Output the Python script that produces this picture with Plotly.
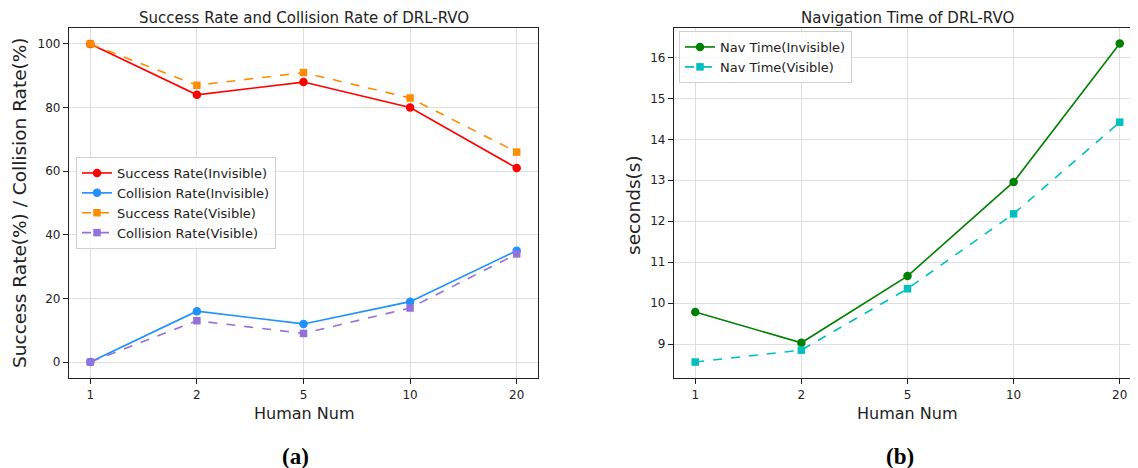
import plotly.graph_objects as go

human_num = ["1", "2", "5", "10", "20"]
success_invisible = [100, 84, 88, 80, 61]
collision_invisible = [0, 16, 12, 19, 35]
success_visible = [100, 87, 91, 83, 66]
collision_visible = [0, 13, 9, 17, 34]
navtime_invisible = [9.78, 9.03, 10.66, 12.96, 16.34]
navtime_visible = [8.56, 8.85, 10.35, 12.18, 14.42]

# page has an 8px body margin; work in screen pixels and convert
OFF = 8
W, H = 1138 - OFF, 468 - OFF
FONT = "DejaVu Sans"

def px(x):
    return (x - OFF) / W

def py(y):
    return 1 - (y - OFF) / H

fig = go.Figure()

def add(x, y, name, color, dash, symbol, xa, ya, legend, msize):
    fig.add_trace(go.Scatter(
        x=x, y=y, name=name, mode="lines+markers",
        line=dict(color=color, width=1.6, dash=dash),
        marker=dict(color=color, symbol=symbol, size=msize),
        xaxis=xa, yaxis=ya, legend=legend))

add(human_num, success_invisible, "Success Rate(Invisible)", "#ff0000", "solid", "circle", "x", "y", "legend", 8.5)
add(human_num, collision_invisible, "Collision Rate(Invisible)", "#1e90ff", "solid", "circle", "x", "y", "legend", 8.5)
add(human_num, success_visible, "Success Rate(Visible)", "#ff8c00", "dash", "square", "x", "y", "legend", 7.5)
add(human_num, collision_visible, "Collision Rate(Visible)", "#9370db", "dash", "square", "x", "y", "legend", 7.5)
add(human_num, navtime_invisible, "Nav Time(Invisible)", "#008000", "solid", "circle", "x2", "y2", "legend2", 8.5)
add(human_num, navtime_visible, "Nav Time(Visible)", "#00bfbf", "dash", "square", "x2", "y2", "legend2", 7.5)

tickfont = dict(family=FONT, size=12, color="#222222")
common_x = dict(type="category", showgrid=True, gridcolor="#dedede", gridwidth=1,
                showline=True, linecolor="#222222", linewidth=1.2,
                ticks="outside", ticklen=5, tickcolor="#222222", tickfont=tickfont,
                zeroline=False)
common_y = dict(showgrid=True, gridcolor="#dedede", gridwidth=1,
                showline=True, linecolor="#222222", linewidth=1.2,
                ticks="outside", ticklen=5, tickcolor="#222222", tickfont=tickfont,
                zeroline=False)

ydom = [py(378), py(28)]
fig.update_layout(
    width=W, height=H, margin=dict(l=0, r=0, t=0, b=0),
    paper_bgcolor="white", plot_bgcolor="white",
    font=dict(family=FONT, color="#222222"),
    xaxis=dict(domain=[px(69), px(538)], range=[-0.2, 4.2], mirror=True, anchor="y", **common_x),
    yaxis=dict(domain=ydom, range=[-5, 105], tickvals=[0, 20, 40, 60, 80, 100], mirror=True, anchor="x", **common_y),
    xaxis2=dict(domain=[px(674), 1.0], range=[-0.2, 4.172], mirror=True, anchor="y2", **common_x),
    yaxis2=dict(domain=ydom, range=[8.17, 16.72], tickvals=[9, 10, 11, 12, 13, 14, 15, 16], anchor="x2", **common_y),
    legend=dict(x=px(76), y=py(157), xanchor="left", yanchor="top",
                bgcolor="rgba(255,255,255,0.85)", bordercolor="#d0d0d0", borderwidth=1,
                font=dict(family=FONT, size=13, color="#222222"), tracegroupgap=0),
    legend2=dict(x=px(679), y=py(31), xanchor="left", yanchor="top",
                 bgcolor="rgba(255,255,255,0.85)", bordercolor="#d0d0d0", borderwidth=1,
                 font=dict(family=FONT, size=13, color="#222222"), tracegroupgap=0),
    showlegend=True,
)

ann = [
    dict(text="Success Rate and Collision Rate of DRL-RVO", x=px(303.5), y=1.0, size=15, angle=0, ya="top"),
    dict(text="Navigation Time of DRL-RVO", x=px(907), y=1.0, size=15, angle=0, ya="top"),
    dict(text="Success Rate(%) / Collision Rate(%)", x=px(19), y=py(203), size=18.5, angle=-90, ya="middle"),
    dict(text="seconds(s)", x=px(633), y=py(205), size=18.5, angle=-90, ya="middle"),
    dict(text="Human Num", x=px(303.5), y=py(413), size=16, angle=0, ya="middle"),
    dict(text="Human Num", x=px(907), y=py(413), size=16, angle=0, ya="middle"),
]
for a in ann:
    fig.add_annotation(text=a["text"], x=a["x"], y=a["y"], xref="paper", yref="paper",
                       xanchor="center", yanchor=a["ya"], showarrow=False, textangle=a["angle"],
                       borderpad=0,
                       font=dict(family=FONT, size=a["size"], color="#222222"))

for t, x in [("(a)", 295), ("(b)", 900)]:
    fig.add_annotation(text="<b>" + t + "</b>", x=px(x), y=py(456), xref="paper", yref="paper",
                       xanchor="center", yanchor="middle", showarrow=False,
                       font=dict(family="Liberation Serif", size=23, color="#000000"))

fig.write_html("out.html")
